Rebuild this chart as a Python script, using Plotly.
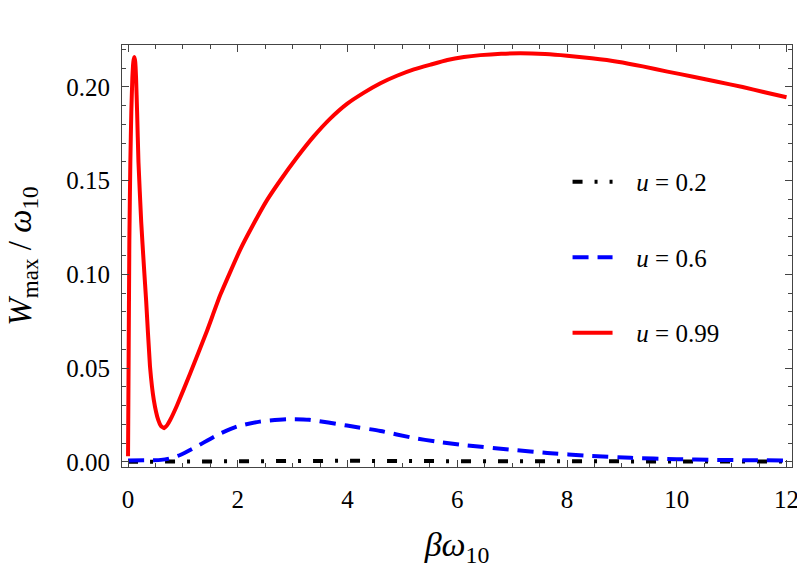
import plotly.graph_objects as go

# ---- data ----
red_x = [0.0, 0.012, 0.024, 0.042, 0.060, 0.079, 0.097, 0.115, 0.131, 0.146, 0.165, 0.19, 0.24, 0.29, 0.33,
         0.40, 0.47, 0.55, 0.60, 0.657, 0.71, 0.77, 0.89, 1.13, 1.44, 1.68, 2.04, 2.28, 2.53, 2.77, 3.08, 3.38,
         3.68, 3.99, 4.30, 4.60, 4.90, 5.21, 5.52, 5.82, 6.12, 6.42, 6.80, 7.15, 7.60, 8.00, 8.45,
         8.92, 9.38, 9.83, 10.30, 10.74, 11.20, 11.60, 12.0]
red_y = [0.003, 0.060, 0.118, 0.160, 0.187, 0.205, 0.2135, 0.216, 0.2135, 0.205, 0.187, 0.160, 0.128, 0.104, 0.086,
         0.051, 0.033, 0.0224, 0.0192, 0.018, 0.0195, 0.0225, 0.030, 0.047, 0.070, 0.089, 0.113, 0.1265, 0.1395,
         0.150, 0.1625, 0.1735,
         0.183, 0.191, 0.197, 0.202, 0.206, 0.2094, 0.212, 0.2144, 0.216, 0.217, 0.2177, 0.218, 0.2176, 0.2167, 0.2153,
         0.2135, 0.2110, 0.2082, 0.2055, 0.2028, 0.2000, 0.1972, 0.1945]

blue_x = [0.0, 0.3, 0.6, 0.75, 0.95, 1.25, 1.6, 1.98, 2.4, 2.9, 3.3, 3.99, 4.6, 5.2, 5.63, 6.12,
          7.03, 7.64, 8.4, 9.16, 10.0, 10.68, 11.3, 12.0]
blue_y = [0.0008, 0.0009, 0.0011, 0.0018, 0.0037, 0.0082, 0.0140, 0.0188, 0.0215, 0.0228, 0.0225, 0.0194,
          0.0165, 0.0128, 0.0108, 0.0090, 0.0064, 0.0048, 0.0033, 0.0022, 0.0015, 0.0011, 0.0009, 0.0008]

black_x = [0.0, 0.5, 1.0, 2.0, 3.0, 4.0, 6.0, 8.0, 10.0, 12.0]
black_y = [0.0001, 0.0002, 0.0004, 0.0006, 0.0007, 0.0006, 0.0004, 0.0003, 0.0002, 0.0002]

labels = ["<i>u</i> = 0.2", "<i>u</i> = 0.6", "<i>u</i> = 0.99"]
x_ticks = [0, 2, 4, 6, 8, 10, 12]
y_ticks = [0.00, 0.05, 0.10, 0.15, 0.20]

FONT = "Liberation Serif"
PAD = "&nbsp;&nbsp;&nbsp;"

fig = go.Figure()
fig.add_trace(go.Scatter(x=black_x, y=black_y, mode="lines", name=PAD + labels[0], legendgroup="a",
                         line=dict(color="black", width=4, dash="10px,12px,3px,12px")))
fig.add_trace(go.Scatter(x=blue_x, y=blue_y, mode="lines", name=PAD + labels[1], legendgroup="b",
                         line=dict(color="#0000ff", width=4, dash="16px,9px", shape="spline", smoothing=0.6)))
fig.add_trace(go.Scatter(x=red_x, y=red_y, mode="lines", name=PAD + labels[2], legendgroup="c",
                         line=dict(color="#ff0000", width=4, shape="spline", smoothing=0.4)))

axis_common = dict(
    showgrid=False, zeroline=False, showline=True, linecolor="#444", linewidth=1,
    mirror="allticks", ticks="inside", ticklen=7, tickwidth=1, tickcolor="#444",
    tickfont=dict(family=FONT, size=25, color="black"),
    ticklabeloverflow="allow",
)

fig.update_xaxes(range=[-0.11, 12.1], tickvals=x_ticks, ticktext=[str(v) for v in x_ticks],
                 minor=dict(dtick=0.5, tick0=0, ticks="inside", ticklen=4, tickcolor="#444"),
                 title=dict(text="<i>βω</i><sub>10</sub>", font=dict(family=FONT, size=34, color="black"),
                            standoff=20),
                 ticklabelstandoff=10,
                 **axis_common)
fig.update_yaxes(range=[-0.0027, 0.2224], tickvals=y_ticks, ticktext=[f"{v:.2f}" for v in y_ticks],
                 minor=dict(dtick=0.01, tick0=0, ticks="inside", ticklen=4, tickcolor="#444"),
                 title=dict(text="<i>W</i><sub>max</sub> / <i>ω</i><sub>10</sub>",
                            font=dict(family=FONT, size=33, color="black"), standoff=24),
                 ticklabelstandoff=6,
                 **axis_common)

fig.update_layout(
    width=797, height=568,
    margin=dict(l=122, r=5, t=45, b=101, autoexpand=False),
    paper_bgcolor="white", plot_bgcolor="white",
    font=dict(family=FONT, color="black"),
    legend=dict(x=0.665, y=0.73, xanchor="left", yanchor="top", bgcolor="rgba(0,0,0,0)",
                font=dict(family=FONT, size=25, color="black"), tracegroupgap=40,
                itemwidth=40),
)

fig.write_html("out.html", config={"displayModeBar": False})

# remove the default page margin so the figure sits at the window's top-left corner
with open("out.html", "r", encoding="utf-8") as f:
    html = f.read()
html = html.replace("<head>", "<head><style>html,body{margin:0;padding:0;overflow:hidden;}</style>", 1)
with open("out.html", "w", encoding="utf-8") as f:
    f.write(html)
